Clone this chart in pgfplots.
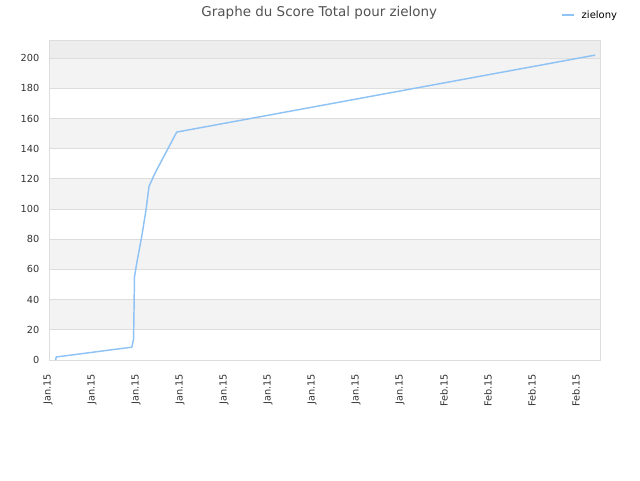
\documentclass[border=0pt]{standalone}
\usepackage{pgfplots}
\pgfplotsset{compat=1.18}
\usepackage{fontspec}
\setmainfont{DejaVu Sans}
\definecolor{lineblue}{RGB}{144,195,245}
\definecolor{bandgray}{RGB}{243,243,243}
\definecolor{topgray}{RGB}{237,237,237}
\definecolor{gridgray}{RGB}{221,221,221}
\definecolor{labelgray}{RGB}{51,51,51}
\pgfplotsset{band/.style={draw=gridgray, line width=0.6pt, fill=#1, forget plot}}
\begin{document}
\begin{tikzpicture}
\path[use as bounding box] (0,0) rectangle (480pt,360pt);
\begin{axis}[
  at={(37.5pt,90pt)}, anchor=south west,
  scale only axis,
  width=412.5pt, height=240pt,
  xmin=0, xmax=12.5,
  ymin=0, ymax=212,
  xtick={0,...,12},
  xticklabels={Jan.15,Jan.15,Jan.15,Jan.15,Jan.15,Jan.15,Jan.15,Jan.15,Jan.15,Feb.15,Feb.15,Feb.15,Feb.15},
  ytick={0,20,...,200},
  ymajorgrids,
  grid style={gridgray, line width=0.6pt},
  axis line style={gridgray, line width=0.75pt},
  major tick length=0pt,
  tick label style={font=\fontsize{7.3}{8}\selectfont, text=labelgray},
  x tick label style={rotate=90, anchor=east, xshift=-7pt, yshift=1.5pt},
  y tick label style={xshift=-4.5pt},
  /pgf/number format/assume math mode=true,
  legend style={draw=none, fill=none, font=\fontsize{7.5}{9}\selectfont,
    at={(1,1)}, anchor=east, xshift=18pt, yshift=18.5pt},
  legend image code/.code={\draw[lineblue, line width=1.5pt] (0pt,0pt) -- (9pt,0pt);},
  legend cell align=left,
]
\addplot[band=bandgray] coordinates {(0,20) (12.5,20) (12.5,40) (0,40)};
\addplot[band=bandgray] coordinates {(0,60) (12.5,60) (12.5,80) (0,80)};
\addplot[band=bandgray] coordinates {(0,100) (12.5,100) (12.5,120) (0,120)};
\addplot[band=bandgray] coordinates {(0,140) (12.5,140) (12.5,160) (0,160)};
\addplot[band=bandgray] coordinates {(0,180) (12.5,180) (12.5,200) (0,200)};
\addplot[band=topgray] coordinates {(0,200) (12.5,200) (12.5,212) (0,212)};
\addplot[lineblue, line width=1.1pt, line join=round] coordinates {
  (0.13,0) (0.14,2) (1.86,8.5) (1.90,14) (1.92,55) (1.97,64)
  (2.08,81) (2.18,99) (2.25,115) (2.39,124) (2.88,151) (12.39,202)
};
\addlegendentry{\hspace{3pt}zielony}
\end{axis}
\node[text=labelgray!85, font=\fontsize{10.1}{12}\selectfont] at (239.5pt,350.5pt) {Graphe du Score Total pour zielony};
\end{tikzpicture}
\end{document}
